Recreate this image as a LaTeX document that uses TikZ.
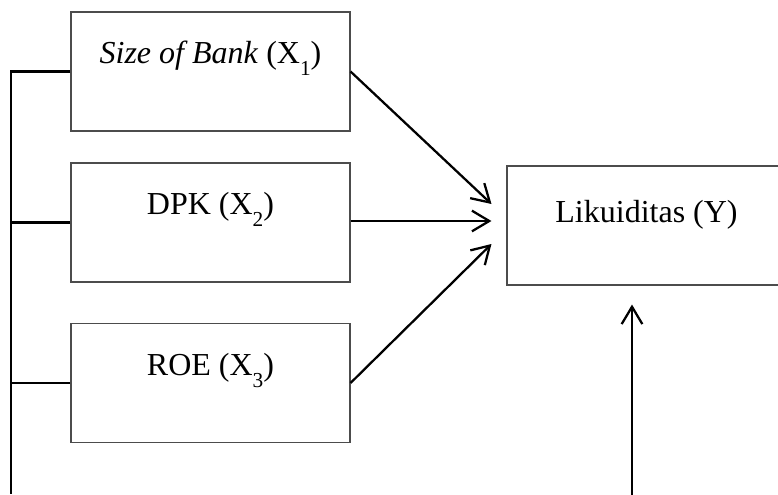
\documentclass[tikz,border=0pt]{standalone}
\usepackage{fontspec}
\setmainfont{Liberation Serif}
\usepackage{tikz}
\usetikzlibrary{arrows.meta,calc}

\newcommand{\lowidx}[1]{\raisebox{-9pt}{\fontsize{16}{16}\selectfont #1}}

\tikzset{
  varbox/.style={draw=black!70,line width=0.8pt,minimum width=209.25pt,minimum height=89.25pt,
    inner sep=0pt,font=\fontsize{24}{28}\selectfont,text height=17pt,text depth=29pt},
  conn/.style={line width=1.7pt},
  arr/.style={conn,-{Straight Barb[length=13pt,width=15.5pt]}}
}

\begin{document}
\begin{tikzpicture}[x=0.75pt,y=-0.75pt]
\clip (0,0) rectangle (778,494);
\node[varbox] (size) at (210.5,71.5) {\textit{Size of Bank} (X\lowidx{1})};
\node[varbox] (dpk) at (210.5,222.5) {DPK (X\lowidx{2})};
\node[varbox] (roe) at (210.5,383) {ROE (X\lowidx{3})};
\node[varbox,text depth=21.5pt] (liq) at (646.5,225.5) {Likuiditas (Y)};
% ends of the connectors
\coordinate (t1) at ($(liq.west)+(-15,-21.5)$);
\coordinate (t2) at ($(liq.west)+(-15,-4.5)$);
\coordinate (t3) at ($(liq.west)+(-15,18.5)$);
\coordinate (b0) at ($(liq.south)+(-14.5,209)$);
\coordinate (b1) at ($(liq.south)+(-14.5,19)$);
\coordinate (bus) at (11,494);
% left line
\draw[conn] (size.west) -| (bus);
\draw[conn] (dpk.west) -- (dpk.west -| bus);
\draw[conn] (roe.west) -- (roe.west -| bus);
% arrows into Y
\draw[arr] (size.east) -- (t1);
\draw[arr] (dpk.east |- t2) -- (t2);
\draw[arr] (roe.east) -- (t3);
\draw[arr] (b0) -- (b1);
\end{tikzpicture}
\end{document}
